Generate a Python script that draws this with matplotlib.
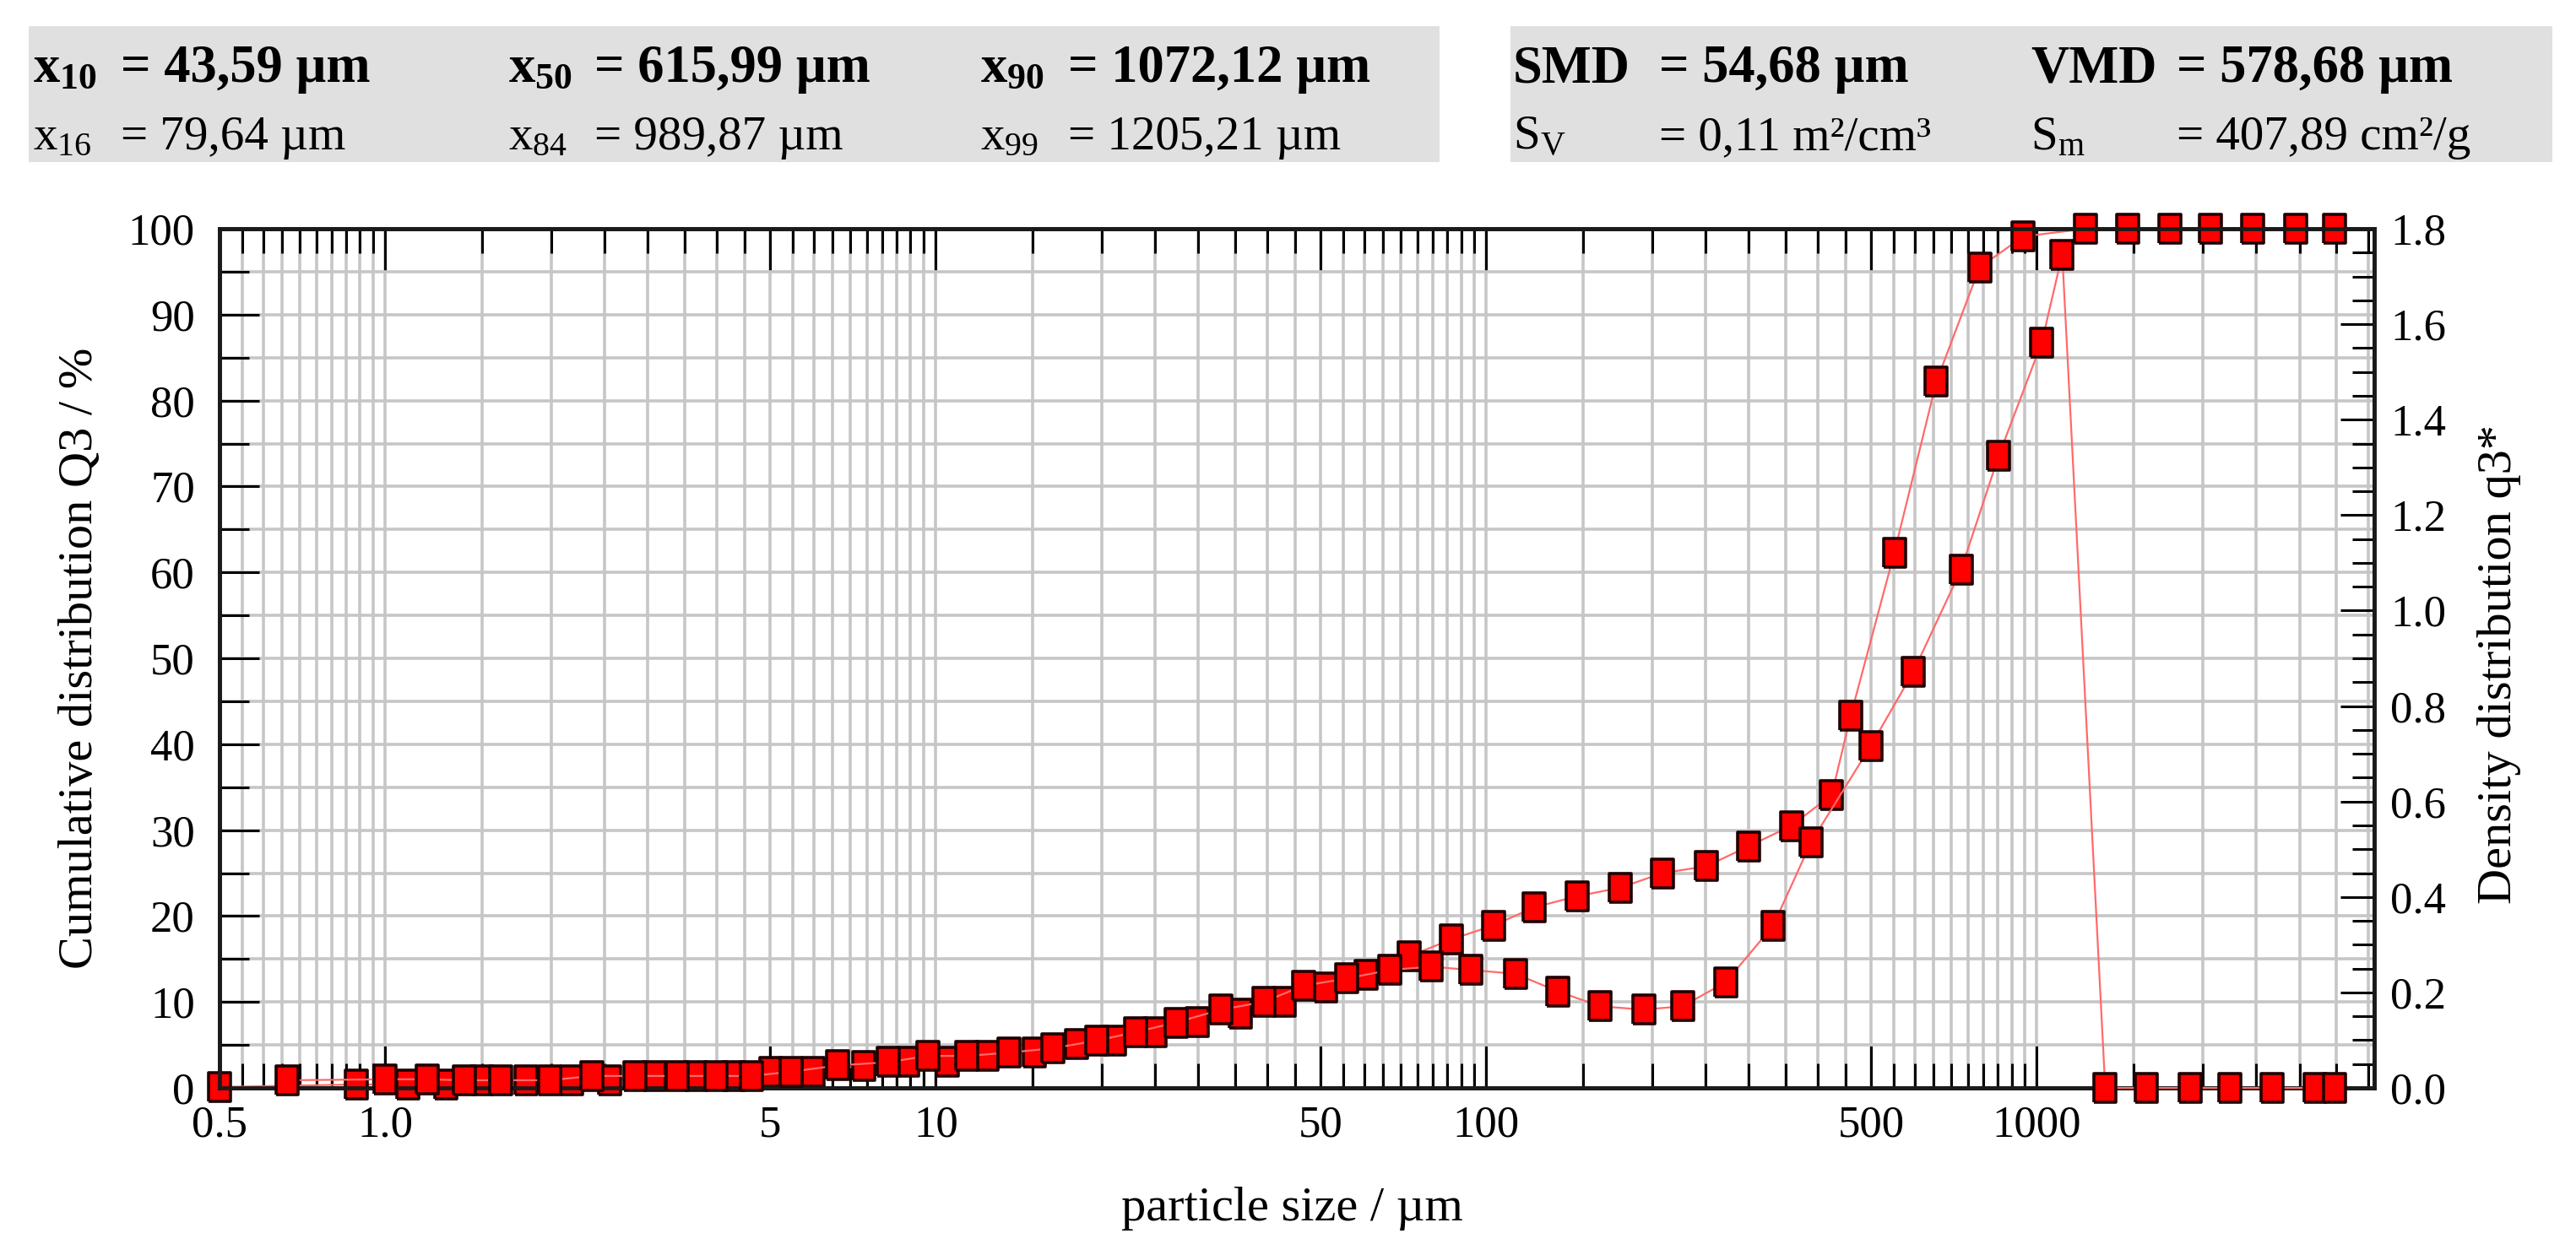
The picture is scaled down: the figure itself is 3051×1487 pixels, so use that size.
import numpy as np
import matplotlib
matplotlib.use('Agg')
import matplotlib.pyplot as plt
from matplotlib.patches import Rectangle
from matplotlib.ticker import FixedLocator, FixedFormatter, NullFormatter, MultipleLocator, FormatStrFormatter

plt.rcParams['font.family'] = ['Liberation Serif', 'DejaVu Serif']
plt.rcParams['mathtext.fontset'] = 'custom'
plt.rcParams['mathtext.rm'] = 'Liberation Serif'
plt.rcParams['mathtext.bf'] = 'Liberation Serif:bold'
plt.rcParams['mathtext.it'] = 'Liberation Serif:italic'

# cumulative distribution Q3 (%), at upper bin edges
size_cum = [0.5, 0.887, 1.10, 1.29, 1.50, 1.80, 2.18, 2.56, 3.08, 3.66, 4.29, 5.01,
            5.99, 7.40, 8.89, 10.5, 12.4, 15.1, 18.0, 21.1, 25.0, 29.8, 35.7, 42.9,
            51.0, 60.4, 72.3, 86.5, 103, 122, 146, 175, 209, 251, 299, 358, 424, 459,
            551, 657, 787, 945, 1227, 1463, 1745, 2066, 2466, 2952, 3474]
q3_cum = [0.1, 0.4, 0.4, 0.4, 0.9, 0.9, 0.9, 0.9, 1.4, 1.4, 1.4, 1.9,
          1.9, 2.6, 3.0, 3.0, 3.7, 4.1, 5.1, 5.5, 6.5, 7.7, 8.6, 10.0,
          11.7, 13.2, 15.3, 17.3, 18.9, 21.0, 22.3, 23.3, 25.0, 25.8, 28.1, 30.5, 34.1, 43.3,
          62.3, 82.2, 95.5, 99.1, 100, 100, 100, 100, 100, 100, 100]

# density distribution q3*, at bin centres
size_dens = [0.664, 1.0, 1.19, 1.39, 1.62, 1.99, 2.37, 2.84, 3.39, 3.99, 4.62, 5.46,
             6.64, 8.21, 9.66, 11.4, 13.6, 16.3, 19.6, 23.1, 27.3, 33.0, 39.4, 46.5,
             55.7, 66.7, 79.4, 93.8, 113, 135, 161, 193, 227, 272, 332, 389, 499, 596,
             728, 853, 1021, 1112, 1331, 1581, 1900, 2243, 2679, 3200, 3474]
q3_dens = [0.016, 0.018, 0.018, 0.016, 0.016, 0.016, 0.025, 0.025, 0.025, 0.025, 0.025, 0.034,
           0.047, 0.054, 0.067, 0.067, 0.074, 0.083, 0.099, 0.117, 0.137, 0.164, 0.180, 0.214,
           0.229, 0.247, 0.254, 0.247, 0.239, 0.202, 0.171, 0.164, 0.171, 0.221, 0.340, 0.515, 0.716, 0.871,
           1.085, 1.325, 1.562, 1.746, 0.0, 0.0, 0.0, 0.0, 0.0, 0.0, 0.0]

x_major = [0.5, 1, 5, 10, 50, 100, 500, 1000]
x_major_labels = ['0.5', '1.0', '5', '10', '50', '100', '500', '1000']

header_names_1 = [r'$\mathbf{x}_{\mathbf{10}}$', r'$\mathbf{x}_{\mathbf{50}}$', r'$\mathbf{x}_{\mathbf{90}}$', 'SMD', 'VMD']
header_values_1 = ['= 43,59 µm', '= 615,99 µm', '= 1072,12 µm', '= 54,68 µm', '= 578,68 µm']
header_names_2 = [r'$\mathrm{x}_{\mathrm{16}}$', r'$\mathrm{x}_{\mathrm{84}}$', r'$\mathrm{x}_{\mathrm{99}}$', r'$\mathrm{S}_{\mathrm{V}}$', r'$\mathrm{S}_{\mathrm{m}}$']
header_values_2 = ['= 79,64 µm', '= 989,87 µm', '= 1205,21 µm', '= 0,11 m²/cm³', '= 407,89 cm²/g']

W, H = 3051, 1487
fig = plt.figure(figsize=(W / 100, H / 100), dpi=100)

# grey header boxes
for x0, x1 in [(34, 1705), (1789, 3023)]:
    fig.patches.append(Rectangle((x0 / W, 1 - 192 / H), (x1 - x0) / W, 161 / H,
                                 transform=fig.transFigure, facecolor='#e0e0e0',
                                 edgecolor='none', zorder=0))

name_x = [39, 602, 1161, 1792, 2405]
value_x = [143, 704, 1265, 1965, 2578]
for i in range(5):
    fig.text(name_x[i] / W, 1 - 97 / H, header_names_1[i], fontsize=45, fontweight='bold', va='baseline')
    fig.text(value_x[i] / W, 1 - 97 / H, header_values_1[i], fontsize=45, fontweight='bold', va='baseline')
    fig.text(name_x[i] / W, 1 - 177 / H, header_names_2[i], fontsize=41, va='baseline')
    fig.text(value_x[i] / W, 1 - 177 / H, header_values_2[i], fontsize=41, va='baseline')

ax = fig.add_axes([260 / W, 198 / H, 2552 / W, 1018 / H])
ax2 = ax.twinx()

box = np.array([(-0.38, -0.5), (0.38, -0.5), (0.38, 0.5), (-0.38, 0.5), (-0.38, -0.5)])
style = dict(color='#ff6a6a', linewidth=1.6, marker=box, markersize=25,
             markerfacecolor='#ff0000', markeredgecolor='#200000', markeredgewidth=2.6,
             clip_on=False)

ax.plot(size_cum, q3_cum, zorder=3, **style)
ax2.plot(size_dens, q3_dens, zorder=3, **style)

ax.set_xscale('log')
ax.set_xlim(0.5, 4100)
ax.set_ylim(0, 100)
ax2.set_ylim(0, 1.8)

grid_x = np.concatenate([np.arange(0.5, 1.0, 0.05), np.arange(1, 10, 0.5),
                         np.arange(10, 100, 5), np.arange(100, 1000, 50),
                         np.arange(1000, 4001, 500)])
ax.xaxis.set_major_locator(FixedLocator(x_major))
ax.xaxis.set_major_formatter(FixedFormatter(x_major_labels))
ax.xaxis.set_minor_locator(FixedLocator(grid_x))
ax.xaxis.set_minor_formatter(NullFormatter())

ax.yaxis.set_major_locator(MultipleLocator(10))
ax.yaxis.set_minor_locator(MultipleLocator(5))
ax2.yaxis.set_major_locator(MultipleLocator(0.2))
ax2.yaxis.set_minor_locator(MultipleLocator(0.05))
ax2.yaxis.set_major_formatter(FormatStrFormatter('%.1f'))

ax.grid(True, which='both', color='#c6c6c6', linewidth=2.6)
ax.set_axisbelow(True)

ax.tick_params(axis='x', which='major', direction='in', length=36, width=2.2,
               top=True, bottom=True, labelsize=38, pad=15)
ax.tick_params(axis='x', which='minor', direction='in', length=21, width=2.2,
               top=True, bottom=True)
ax.tick_params(axis='y', which='major', direction='in', length=34, width=2.2,
               labelsize=38, pad=21)
ax.tick_params(axis='y', which='minor', direction='in', length=25, width=2.2)
ax2.tick_params(axis='y', which='major', direction='in', length=29, width=2.2,
                labelsize=38, pad=14)
ax2.tick_params(axis='y', which='minor', direction='in', length=19, width=2.2)

for a in (ax, ax2):
    for s in a.spines.values():
        s.set_linewidth(3.4)
        s.set_color('#1a1a1a')

fig.text(95 / W, 1 - 780 / H, 'Cumulative distribution Q3 / %', rotation=90,
         ha='center', va='center', fontsize=42)
fig.text(2960 / W, 1 - 787 / H, 'Density distribution q3*', rotation=90,
         ha='center', va='center', fontsize=42)
fig.text(1530 / W, 1 - 1432 / H, 'particle size / µm', ha='center', va='center', fontsize=42)

fig.savefig('out.png', dpi=100)
